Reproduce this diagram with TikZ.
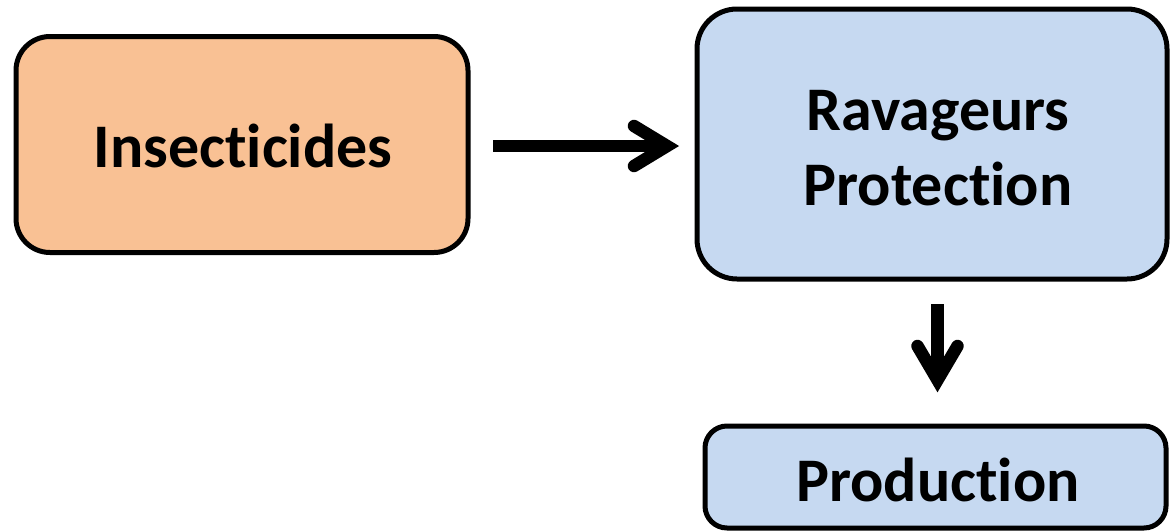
\documentclass[tikz,border=0pt]{standalone}
\usepackage{fontspec}
\setmainfont{Carlito}[Ligatures={NoCommon,NoContextual}]
\definecolor{orangefill}{RGB}{249,193,148}
\definecolor{bluefill}{RGB}{198,217,241}
\begin{document}
\begin{tikzpicture}[x=1pt,y=-1pt,
  box/.style={draw=black, line width=5pt, rounded corners=#1, align=center,
    font=\fontsize{62}{75}\selectfont\bfseries, inner sep=0pt},
  shaft/.style={line width=12.5pt, line cap=butt},
  head/.style={line width=12.5pt, line cap=round, line join=miter, miter limit=10}]
\useasboundingbox (0,0) rectangle (1170,531);
\node[box=34pt, fill=orangefill, minimum width=452pt, minimum height=216pt] (ins) at (242,144.5) {};
\node at (243,146) {\fontsize{62}{75}\selectfont\bfseries Insecticides};
\node[box=40pt, fill=bluefill, minimum width=470pt, minimum height=270pt] (rav) at (932,144) {};
\node[align=center, font=\fontsize{62}{75}\selectfont\bfseries] at (938,148) {Ravageurs\\Protection};
\node[box=22pt, fill=bluefill, minimum width=461pt, minimum height=102pt] (prod) at (935.5,477) {};
\node[font=\fontsize{62}{75}\selectfont\bfseries] at (938,480) {Production};
% horizontal arrow
\coordinate (h0) at (493,146);
\coordinate (h1) at (667,146);
\coordinate (hu) at (634,126);
\coordinate (hd) at (634,166);
\draw[shaft] (h0) -- (h1);
\draw[head] (hu) -- (h1) -- (hd);
% vertical arrow
\coordinate (v0) at (937.5,304);
\coordinate (v1) at (937.5,380);
\coordinate (vl) at (917.5,346);
\coordinate (vr) at (957.5,346);
\draw[shaft] (v0) -- (v1);
\draw[head] (vl) -- (v1) -- (vr);
\end{tikzpicture}
\end{document}
